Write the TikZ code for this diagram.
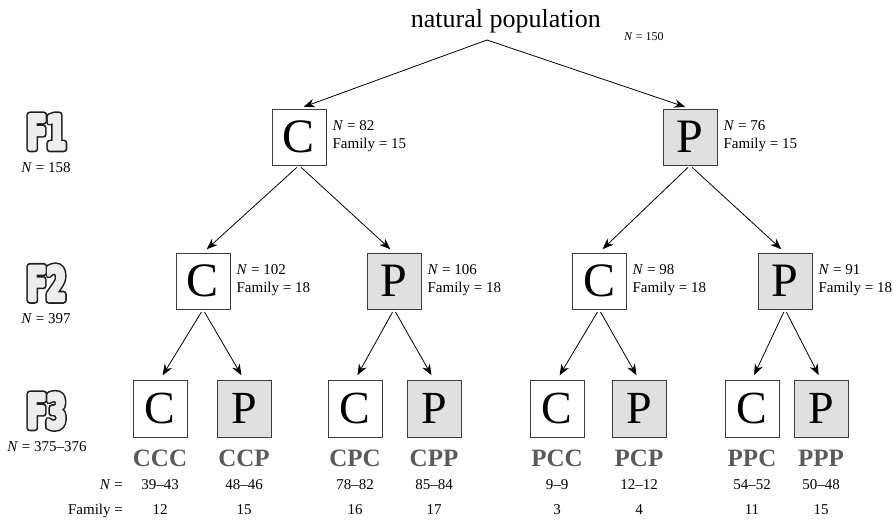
\documentclass[tikz,border=0pt]{standalone}
\usepackage{fontspec}
\usepackage{graphicx}
\setmainfont{Liberation Serif}
\newfontfamily\glyphfont[FakeStretch=0.6]{DejaVu Sans}
\usetikzlibrary{arrows.meta,calc}
\definecolor{boxgray}{HTML}{E0E0E0}
\definecolor{labgray}{HTML}{5A5A5A}
\definecolor{edgegray}{HTML}{3C3C3C}
\newcommand\outerglyph[1]{\special{pdf:literal direct 2 Tr 1 j 6.5 w 0.12 G 0.12 g}#1\special{pdf:literal direct 0 Tr}}
\newcommand\innerglyph[1]{\special{pdf:literal direct 2 Tr 1 j 3.4 w 0.93 G 0.93 g}#1\special{pdf:literal direct 0 Tr}}
\begin{document}
\begin{tikzpicture}[x=1pt,y=-1pt,
  box/.style={draw=edgegray, line width=0.8pt, minimum width=54pt, minimum height=56pt, inner sep=0pt, font=\fontsize{48}{48}\selectfont},
  sbox/.style={box, minimum height=57pt, font=\fontsize{46}{46}\selectfont},
  cfill/.style={fill=white},
  pfill/.style={fill=boxgray},
  arr/.style={-{Stealth[length=11pt,width=8.5pt,inset=3.5pt]}, line width=0.8pt, shorten >=5pt, shorten <=3pt},
  side/.style={font=\fontsize{15}{17.5}\selectfont, align=left, anchor=west, inner sep=0pt},
  grp/.style={font=\fontsize{25}{25}\selectfont\bfseries, text=labgray, anchor=base, inner sep=0pt},
  num/.style={font=\fontsize{15}{15}\selectfont, anchor=base, inner sep=0pt},
  gen/.style={font=\fontsize{47}{47}\glyphfont\bfseries, inner sep=0pt, text height=34pt, text depth=0pt},
]
\useasboundingbox (0,0) rectangle (893,519);

% top
\node[font=\fontsize{26}{26}\selectfont, anchor=base west, inner sep=0pt] (top) at (410.7,28) {natural population};
\node[font=\fontsize{12}{12}\selectfont, anchor=base west, inner sep=0pt] (topn) at (624,41) {\textit{N} = 150};
\coordinate (apex) at (487,40);

% F1
\node[box,cfill] (f1c) at (299,137) {C};
\node[box,pfill] (f1p) at (690,137) {P};
% F2
\node[box,cfill] (f2a) at (203,281) {C};
\node[box,pfill] (f2b) at (394,281) {P};
\node[box,cfill] (f2c) at (599,281) {C};
\node[box,pfill] (f2d) at (785,281) {P};
% F3
\node[sbox,cfill] (f3a) at (160,408.5) {C};
\node[sbox,pfill] (f3b) at (244,408.5) {P};
\node[sbox,cfill] (f3c) at (355,408.5) {C};
\node[sbox,pfill] (f3d) at (434,408.5) {P};
\node[sbox,cfill] (f3e) at (557,408.5) {C};
\node[sbox,pfill] (f3f) at (639,408.5) {P};
\node[sbox,cfill] (f3g) at (752,408.5) {C};
\node[sbox,pfill] (f3h) at (821,408.5) {P};

% side labels
\node[side] (s1c) at ($(f1c.east)+(6,-1)$) {\textit{N} = 82\\Family = 15};
\node[side] (s1p) at ($(f1p.east)+(6,-1)$) {\textit{N} = 76\\Family = 15};
\node[side] (s2a) at ($(f2a.east)+(6,-1)$) {\textit{N} = 102\\Family = 18};
\node[side] (s2b) at ($(f2b.east)+(6,-1)$) {\textit{N} = 106\\Family = 18};
\node[side] (s2c) at ($(f2c.east)+(6,-1)$) {\textit{N} = 98\\Family = 18};
\node[side] (s2d) at ($(f2d.east)+(6,-1)$) {\textit{N} = 91\\Family = 18};

% arrows
\draw[arr, shorten <=0pt] (apex) -- (f1c.north);
\draw[arr, shorten <=0pt] (apex) -- (f1p.north);
\draw[arr] (f1c.south) -- (f2a.north);
\draw[arr] (f1c.south) -- (f2b.north);
\draw[arr] (f1p.south) -- (f2c.north);
\draw[arr] (f1p.south) -- (f2d.north);
\draw[arr] (f2a.south) -- (f3a.north);
\draw[arr] (f2a.south) -- (f3b.north);
\draw[arr] (f2b.south) -- (f3c.north);
\draw[arr] (f2b.south) -- (f3d.north);
\draw[arr] (f2c.south) -- (f3e.north);
\draw[arr] (f2c.south) -- (f3f.north);
\draw[arr] (f2d.south) -- (f3g.north);
\draw[arr] (f2d.south) -- (f3h.north);

% group names
\foreach \b/\t in {f3a/CCC,f3b/CCP,f3c/CPC,f3d/CPP,f3e/PCC,f3f/PCP,f3g/PPC,f3h/PPP}
  \node[grp] (g\b) at ([yshift=-29pt]\b.south) {\t};
% N row
\foreach \b/\t in {f3a/39--43,f3b/48--46,f3c/78--82,f3d/85--84,f3e/9--9,f3f/12--12,f3g/54--52,f3h/50--48}
  \node[num] (n\b) at ([yshift=-52pt]\b.south) {\t};
% Family row
\foreach \b/\t in {f3a/12,f3b/15,f3c/16,f3d/17,f3e/3,f3f/4,f3g/11,f3h/15}
  \node[num] (m\b) at ([yshift=-77pt]\b.south) {\t};
\node[num, anchor=base east] (nlab) at (123,489) {\textit{N} =};
\node[num, anchor=base east] (flab) at (123,514) {Family =};

% generation labels
\node[num] (n1) at (46,172.7) {\textit{N} = 158};
\node[num] (n2) at (46,323) {\textit{N} = 397};
\node[num] (n3) at (47,451) {\textit{N} = 375--376};
\node[gen] (g1o) at (46.5,132) {\outerglyph{F1}};
\node[gen] (g1i) at (46.5,132) {\innerglyph{F1}};
\node[gen] (g2o) at (46.5,283.5) {\outerglyph{F2}};
\node[gen] (g2i) at (46.5,283.5) {\innerglyph{F2}};
\node[gen] (g3o) at (46.5,411) {\outerglyph{F3}};
\node[gen] (g3i) at (46.5,411) {\innerglyph{F3}};
\end{tikzpicture}
\end{document}
